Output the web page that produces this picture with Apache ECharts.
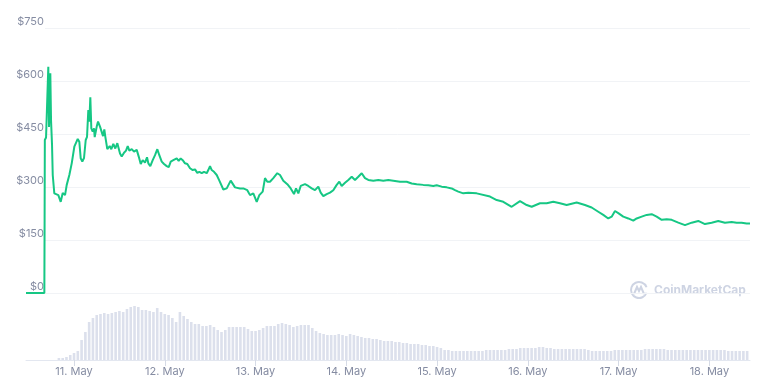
<!DOCTYPE html>
<html>
<head>
<meta charset="utf-8">
<script src="https://cdn.jsdelivr.net/npm/echarts@6/dist/echarts.min.js"></script>
<style>
html,body{margin:0;padding:0;background:#fff;}
#chart{width:772px;height:389px;}
</style>
</head>
<body>
<div id="chart"></div>
<script>
// hours relative to 11 May 00:00
const xMin = -12.7;
const xMax = 178.75;
const dayTicks = [0, 24, 48, 72, 96, 120, 144, 168];
const dayLabels = ['11. May', '12. May', '13. May', '14. May', '15. May', '16. May', '17. May', '18. May'];
const priceTicks = [0, 150, 300, 450, 600, 750];

const priceHours = [
  -12.7, -7.85, -7.78, -7.72, -7.4, -6.8, -6.61, -6.27, -6.08, -5.82, -5.63, -5.21, -4.15, -3.52, -2.99, -2.38, -1.93, -1.24, -0.61,
  0.08, 0.98, 1.4, 1.77, 2.19, 2.64, 3.09, 3.44, 3.78, 4.05, 4.31, 4.57, 4.94, 5.29, 5.47, 6.0, 6.35, 6.87, 7.22, 7.67, 8.01, 8.28,
  8.8, 9.44, 9.86, 10.39, 10.92, 11.45, 12.16, 12.61, 13.22, 13.75, 14.2, 14.62, 15.26, 15.86, 16.58, 17.11, 17.64, 18.16, 18.77,
  19.3, 19.65, 20.17, 20.81, 21.42, 22.03, 22.55, 23.19, 23.8, 24.51, 25.04, 25.57, 26.26, 27.16, 27.68, 28.21, 28.74, 29.35,
  29.96, 30.67, 31.39, 31.99, 32.6, 33.13, 33.77, 34.37, 35.09, 35.51, 35.96, 36.41, 37.02, 37.73, 38.34, 39.48, 40.38, 41.43,
  42.57, 43.89, 44.76, 45.82, 46.54, 47.41, 48.31, 49.0, 49.89, 50.5, 51.11, 51.82, 52.7, 53.75, 54.47, 55.34, 56.4, 57.3, 58.17,
  58.7, 59.31, 59.94, 61.08, 61.95, 62.85, 63.72, 64.6, 65.23, 65.92, 66.82, 67.69, 68.56, 69.46, 70.15, 70.78, 71.66, 72.53,
  73.43, 74.3, 75.17, 76.07, 76.94, 77.82, 79.14, 80.46, 81.78, 83.1, 84.43, 86.2, 87.97, 89.29, 90.61, 92.36, 93.68, 95.0, 95.9,
  97.22, 98.55, 99.87, 100.74, 101.61, 102.94, 104.26, 106.48, 110.0, 111.77, 113.51, 115.73, 117.93, 119.7, 121.02, 123.22,
  124.99, 126.73, 128.5, 130.27, 132.92, 135.11, 136.88, 138.63, 139.95, 141.27, 142.17, 143.05, 143.92, 145.24, 146.56, 147.89,
  148.78, 150.11, 151.43, 152.75, 154.07, 155.4, 156.72, 158.04, 159.79, 161.56, 163.33, 165.07, 166.84, 168.61, 170.35, 172.12,
  173.9, 175.22, 176.54, 177.87, 178.75
];
const priceValues = [
  0, 0, 210, 433, 440, 640, 470, 622, 489, 420, 334, 282, 277, 258, 283, 277, 306, 334, 367,
  414, 436, 428, 381, 372, 382, 433, 442, 518, 485, 554, 466, 457, 466, 441, 471, 485, 471, 466, 444, 463, 442,
  407, 416, 407, 422, 409, 424, 395, 386, 397, 403, 416, 403, 407, 400, 405, 386, 365, 376, 369,
  384, 367, 359, 376, 390, 407, 390, 372, 365, 359, 356, 372, 376, 381, 374, 381, 376, 367,
  365, 353, 348, 350, 340, 343, 339, 343, 339, 348, 359, 348, 343, 334, 320, 293, 296, 318,
  299, 296, 296, 291, 277, 282, 258, 277, 287, 325, 315, 315, 325, 339, 334, 318, 308, 296, 280,
  296, 282, 303, 308, 303, 296, 291, 301, 284, 274, 280, 284, 291, 306, 315, 303, 312, 320,
  329, 320, 329, 339, 325, 320, 318, 320, 318, 320, 318, 315, 315, 310, 308, 306, 305, 303, 305,
  301, 299, 296, 291, 287, 282, 284, 282, 273, 263, 258, 244, 260, 249, 244, 254,
  254, 258, 254, 249, 256, 249, 242, 230, 221, 211, 216, 232, 226, 216, 211, 205,
  211, 216, 221, 223, 216, 207, 209, 207, 199, 192, 199, 204, 195, 199, 204, 199,
  201, 199, 199, 197, 197
];

// hourly volume bars, first bar at hour -4
const volumeStartHour = -4;
const volumes = [
  2, 2, 3, 5, 7, 9, 20, 28, 38, 42, 45, 46, 47, 46, 47, 48, 49, 48, 51, 53, 54, 53, 50, 50, 49, 48, 52, 48,
  46, 45, 42, 38, 48, 44, 41, 38, 36, 36, 34, 34, 35, 33, 30, 28, 30, 33, 33, 33, 33, 33, 31, 29,
  29, 30, 32, 34, 34, 34, 36, 37, 36, 35, 33, 34, 35, 35, 35, 32, 29, 27, 26, 25, 25, 25, 26, 25,
  24, 26, 25, 24, 23, 22, 22, 21, 21, 20, 19, 19, 19, 18, 18, 17, 17, 16, 16, 16, 15, 15, 14, 14,
  13, 12, 10, 10, 9, 9, 9, 9, 9, 9, 9, 9, 9, 10, 10, 10, 10, 10, 10, 11, 11, 11, 12, 12, 12, 12,
  12, 13, 13, 12, 12, 11, 11, 11, 11, 11, 11, 11, 11, 11, 10, 9, 9, 9, 9, 9, 9, 10, 10, 10, 10,
  10, 10, 10, 10, 11, 11, 11, 11, 11, 11, 10, 10, 10, 10, 10, 10, 10, 10, 10, 10, 10, 10, 10, 10,
  10, 10, 9, 9, 9, 9, 9, 9
];

const labelColor = '#858ca2';
const chart = echarts.init(document.getElementById('chart'));
const option = {
  animation: false,
  backgroundColor: '#ffffff',
  textStyle: { fontFamily: 'Inter, "Noto Sans", sans-serif' },
  grid: [
    { left: 26, right: 22, top: 28, bottom: 96 },
    { left: 45, right: 22, top: 28, bottom: 96 },
    { left: 26, right: 22, top: 300, bottom: 29 }
  ],
  xAxis: [
    { gridIndex: 0, type: 'value', min: xMin, max: xMax, show: false },
    { gridIndex: 1, type: 'value', min: xMin, max: xMax, show: false },
    {
      gridIndex: 2, type: 'value', min: xMin, max: xMax,
      axisLine: { show: true, lineStyle: { color: '#e3e7f0', width: 1 } },
      axisTick: { show: true, customValues: dayTicks, length: 6, lineStyle: { color: '#d6dbe6' } },
      axisLabel: {
        customValues: dayTicks,
        formatter: v => dayLabels[dayTicks.indexOf(v)] || '',
        color: labelColor, fontSize: 11, margin: 6
      },
      splitLine: { show: false }
    }
  ],
  yAxis: [
    { gridIndex: 0, type: 'value', min: 0, max: 750, show: false },
    {
      gridIndex: 1, type: 'value', min: 0, max: 750, interval: 150,
      axisLine: { show: false }, axisTick: { show: false },
      axisLabel: {
        formatter: v => '$' + v, color: labelColor, fontSize: 11,
        margin: 1, verticalAlign: 'bottom', padding: [0, 0, 1, 0]
      },
      splitLine: { show: true, lineStyle: { color: '#f1f3f6', width: 1 } }
    },
    { gridIndex: 2, type: 'value', min: 0, max: 60, show: false }
  ],
  graphic: [
    {
      type: 'arc', shape: { cx: 639, cy: 290, r: 8, startAngle: 0.35, endAngle: Math.PI * 2 - 0.35 },
      style: { stroke: '#ced4e3', lineWidth: 2, fill: null }, silent: true
    },
    {
      type: 'polyline', shape: { points: [[634, 294], [637, 287], [639, 291], [641, 287], [644, 294]] },
      style: { stroke: '#ced4e3', lineWidth: 2, fill: null }, silent: true
    },
    {
      type: 'text', left: 654, top: 284,
      style: { text: 'CoinMarketCap', fill: '#ced4e3', font: 'bold 12px Inter, "Noto Sans", sans-serif' },
      silent: true
    }
  ],
  series: [
    {
      type: 'bar', xAxisIndex: 2, yAxisIndex: 2,
      data: volumes.map((v, i) => [volumeStartHour + i, v]),
      barWidth: 2.6, itemStyle: { color: '#dce0ec' }, silent: true
    },
    {
      type: 'line', xAxisIndex: 0, yAxisIndex: 0,
      data: priceHours.map((h, i) => [h, priceValues[i]]),
      showSymbol: false, smooth: false,
      lineStyle: { color: '#16c784', width: 2 }, z: 5, silent: true
    }
  ]
};
chart.setOption(option);
</script>
</body>
</html>
